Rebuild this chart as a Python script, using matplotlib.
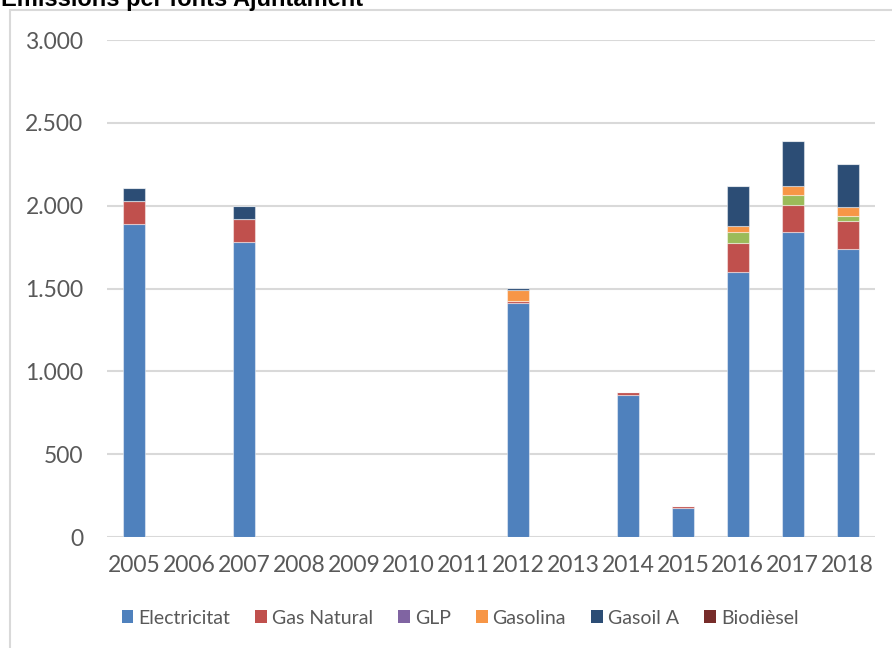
import matplotlib.pyplot as plt
import numpy as np
from matplotlib.patches import Patch, Rectangle
from matplotlib.ticker import FuncFormatter

# Emissions per energy source, 2005-2018
years = ['2005', '2006', '2007', '2008', '2009', '2010', '2011',
         '2012', '2013', '2014', '2015', '2016', '2017', '2018']
electricitat = [1890, 0, 1778, 0, 0, 0, 0, 1411, 0, 858, 175, 1602, 1842, 1740]
gas_natural = [138, 0, 141, 0, 0, 0, 0, 14, 0, 16, 15, 170, 163, 165]
glp = [0, 0, 0, 0, 0, 0, 0, 0, 0, 0, 0, 68, 59, 30]
gasolina = [0, 0, 0, 0, 0, 0, 0, 67, 0, 0, 0, 40, 56, 54]
gasoil_a = [78, 0, 78, 0, 0, 0, 0, 10, 0, 0, 0, 240, 272, 264]
biodiesel = [0, 0, 0, 0, 0, 0, 0, 0, 0, 0, 0, 0, 0, 0]

legend_labels = ['Electricitat', 'Gas Natural', 'GLP', 'Gasolina', 'Gasoil A', 'Biodièsel']
legend_colors = ['#4f81bd', '#c0504d', '#8064a2', '#f79646', '#2c4d75', '#772c2a']
bar_colors = ['#4f81bd', '#c0504d', '#9bbb59', '#f79646', '#2c4d75', '#772c2a']

plt.rcParams['font.family'] = ['Lato', 'DejaVu Sans']

fig = plt.figure(figsize=(8.92, 6.48), dpi=100)
ax = fig.add_axes([107 / 892, 1 - 537 / 648, 768 / 892, 497 / 648])

# outer chart frame
fig.patches.append(Rectangle((10 / 892, -0.1), 1.2, 1 - 10 / 648 + 0.1,
                             transform=fig.transFigure, fill=False,
                             edgecolor='#d9d9d9', linewidth=1.5))

fig.text(1 / 892, 1 - 6 / 648, 'Emissions per fonts Ajuntament',
         family=['Liberation Sans', 'DejaVu Sans'], fontweight='bold',
         fontsize=17, va='baseline', ha='left')

x = np.arange(len(years))
bottom = np.zeros(len(years))
series = [electricitat, gas_natural, glp, gasolina, gasoil_a, biodiesel]
for vals, col in zip(series, bar_colors):
    vals = np.array(vals, dtype=float)
    ax.bar(x, vals, width=0.4, bottom=bottom, color=col,
           edgecolor=(1, 1, 1, 0.45), linewidth=0.8, zorder=3)
    bottom += vals

ax.set_xlim(-0.5, len(years) - 0.5)
ax.set_ylim(0, 3000)
ax.set_yticks(np.arange(0, 3001, 500))
ax.yaxis.set_major_formatter(FuncFormatter(lambda v, p: f'{int(v):,}'.replace(',', '.')))
ax.set_xticks(x)
ax.set_xticklabels(years)

ax.grid(axis='y', color='#d9d9d9', linewidth=1.5, zorder=0)
for s in ax.spines.values():
    s.set_visible(False)
ax.tick_params(axis='both', length=0, colors='#595959', labelsize=16.5)
ax.tick_params(axis='y', pad=17)
ax.tick_params(axis='x', pad=13)

handles = [Patch(facecolor=c, edgecolor='none') for c in legend_colors]
fig.legend(handles, legend_labels, loc='center', bbox_to_anchor=(460 / 892, 1 - 618 / 648),
           ncol=6, frameon=False, fontsize=14, labelcolor='#595959',
           handlelength=0.6, handleheight=0.6, handletextpad=0.25, columnspacing=1.3)

fig.savefig('out.png', dpi=100)
